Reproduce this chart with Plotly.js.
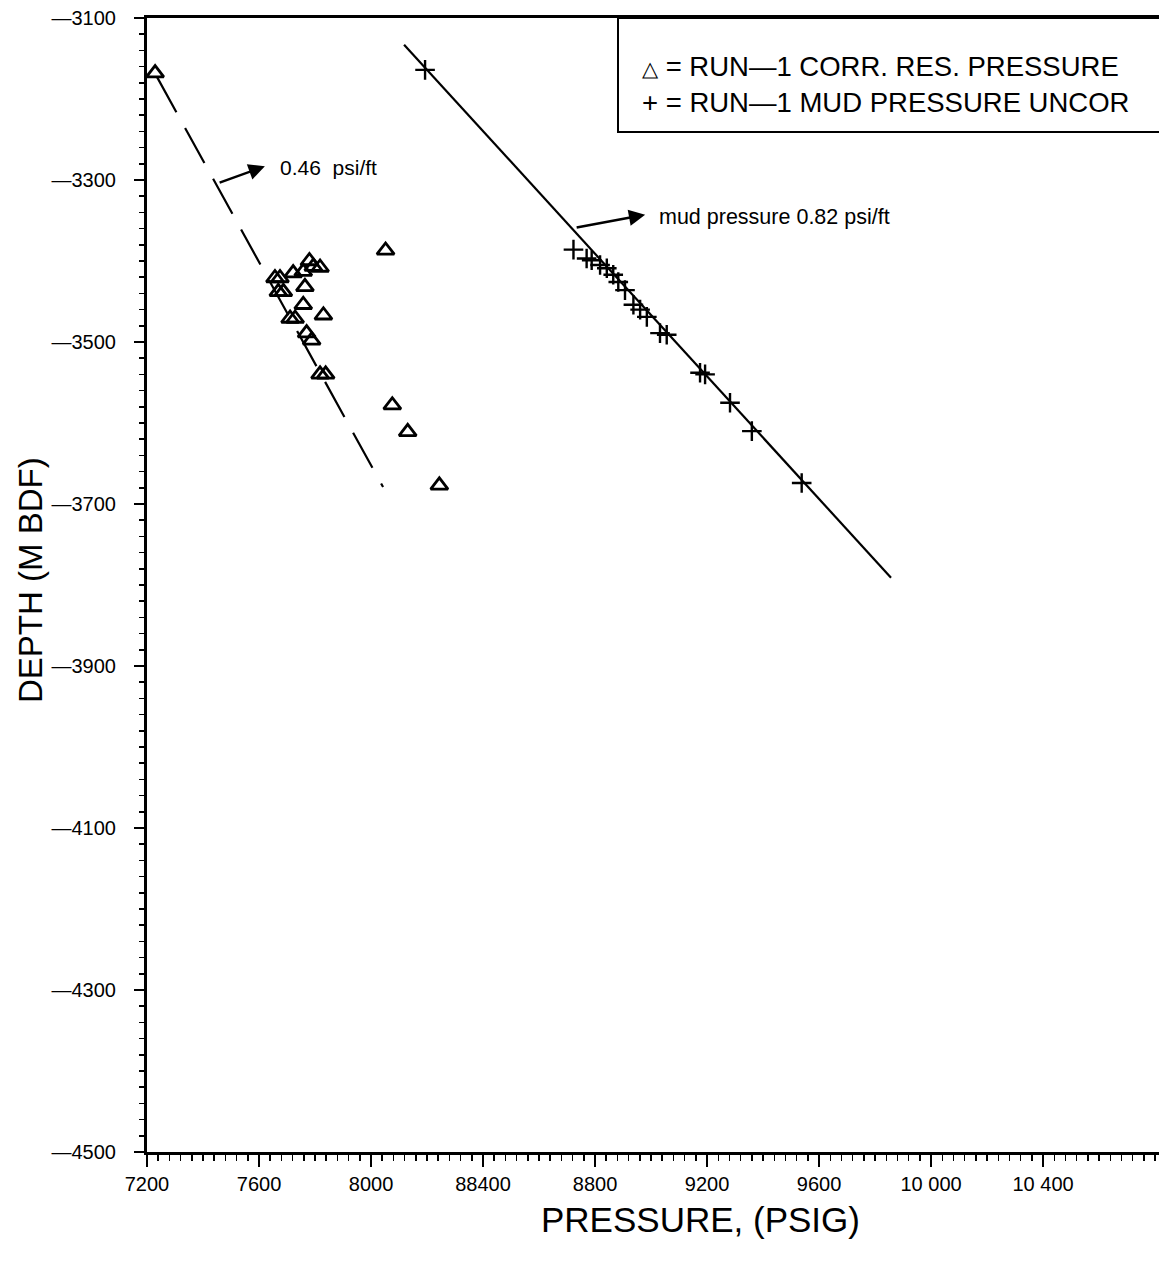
<!DOCTYPE html>
<html>
<head>
<meta charset="utf-8">
<script src="https://cdn.plot.ly/plotly-3.0.1.min.js"></script>
<style>
  html, body { margin: 0; padding: 0; background: #ffffff; }
  #chart { width: 1159px; height: 1266px; }
</style>
</head>
<body>
<div id="chart"></div>
<script>
// ---- Data ----
// RUN-1 corrected reservoir pressure (triangles)
const resPressure = [7229, 8052, 7780, 7818, 7794, 7758, 7722, 7657, 7675, 7669, 7687, 7764, 7758, 7830, 7711, 7729, 7770, 7788, 7818, 7838, 8076, 8131, 8244];
const resDepth    = [-3168, -3387, -3400, -3408, -3407, -3413, -3415, -3421, -3421, -3438, -3438, -3432, -3454, -3467, -3471, -3471, -3489, -3498, -3540, -3540, -3578, -3611, -3677];

// RUN-1 mud pressure uncorrected (crosses)
const mudPressure = [8193, 8723, 8770, 8788, 8818, 8842, 8865, 8883, 8907, 8937, 8961, 8985, 9032, 9056, 9175, 9193, 9282, 9360, 9538];
const mudDepth    = [-3164, -3386, -3397, -3399, -3405, -3409, -3417, -3426, -3436, -3454, -3460, -3469, -3489, -3491, -3538, -3540, -3575, -3610, -3674];

// Gradient lines
const resGradX = [7236, 8043];
const resGradY = [-3173, -3679];
const mudGradX = [8118, 9857];
const mudGradY = [-3133, -3791];

// Axis ticks
const xTickVals = [7200, 7600, 8000, 8400, 8800, 9200, 9600, 10000, 10400];
const xTickText = ['7200', '7600', '8000', '88400', '8800', '9200', '9600', '10 000', '10 400'];
const yTickVals = [-3100, -3300, -3500, -3700, -3900, -4100, -4300, -4500];
const yTickText = ['\u20143100', '\u20143300', '\u20143500', '\u20143700', '\u20143900', '\u20144100', '\u20144300', '\u20144500'];

// Texts
const legendSymbols = ['\u25B3', '+'];
const legendLabels = ['= RUN\u20141 CORR. RES. PRESSURE', '= RUN\u20141 MUD PRESSURE UNCOR'];
const resGradLabel = '0.46  psi/ft';
const mudGradLabel = 'mud pressure 0.82 psi/ft';
const xTitle = 'PRESSURE, (PSIG)';
const yTitle = 'DEPTH (M BDF)';

// ---- Plot ----
const FONT = 'Liberation Sans, Arial, Helvetica, sans-serif';

const traces = [
  {
    x: resGradX, y: resGradY, mode: 'lines', type: 'scatter',
    line: { color: '#000', width: 2.2, dash: '40px,18px' },
    showlegend: false, hoverinfo: 'skip'
  },
  {
    x: mudGradX, y: mudGradY, mode: 'lines', type: 'scatter',
    line: { color: '#000', width: 2.2 },
    showlegend: false, hoverinfo: 'skip'
  },
  {
    x: resPressure, y: resDepth, mode: 'markers', type: 'scatter',
    name: 'RUN-1 CORR. RES. PRESSURE',
    marker: { symbol: 'triangle-up-open', size: 15, color: '#000', line: { color: '#000', width: 2.8 } },
    showlegend: false
  },
  {
    x: mudPressure, y: mudDepth, mode: 'markers', type: 'scatter',
    name: 'RUN-1 MUD PRESSURE UNCOR',
    marker: { symbol: 'cross-thin-open', size: 14, color: '#000', line: { color: '#000', width: 2.4 } },
    showlegend: false
  }
];

const legendLeft = (640 - 147) / 1012;
const legendRows = [(1152 - 66) / 1134, (1152 - 102) / 1134];
const legendSymbolSizes = [21, 27.5];

const legendAnnots = [];
legendLabels.forEach(function (lab, i) {
  legendAnnots.push({
    xref: 'paper', yref: 'paper', x: legendLeft, y: legendRows[i],
    xanchor: 'left', yanchor: 'middle', showarrow: false,
    text: '<span style="font-size:' + legendSymbolSizes[i] + 'px">' + legendSymbols[i] + '</span> ' + lab,
    font: { family: FONT, size: 27.5, color: '#000' }
  });
});

const layout = {
  width: 1159,
  height: 1266,
  margin: { l: 147, r: 0, t: 18, b: 114, pad: 0 },
  paper_bgcolor: '#ffffff',
  plot_bgcolor: '#ffffff',
  font: { family: FONT, color: '#000', size: 20 },
  showlegend: false,
  xaxis: {
    range: [7200, 10814],
    showgrid: false, zeroline: false,
    showline: true, linecolor: '#000', linewidth: 3, mirror: true,
    ticks: 'outside', ticklen: 12, tickwidth: 2, tickcolor: '#000',
    tickmode: 'array', tickvals: xTickVals, ticktext: xTickText,
    tickfont: { family: FONT, size: 20, color: '#000' },
    minor: { ticks: 'outside', ticklen: 6, tickwidth: 1.5, tickcolor: '#000', tickmode: 'linear', tick0: 7200, dtick: 40, showgrid: false }
  },
  yaxis: {
    range: [-4500, -3100],
    showgrid: false, zeroline: false,
    showline: true, linecolor: '#000', linewidth: 3, mirror: false,
    ticks: 'outside', ticklen: 10, tickwidth: 2, tickcolor: '#000',
    tickmode: 'array', tickvals: yTickVals, ticktext: yTickText,
    ticklabelstandoff: 14,
    tickfont: { family: FONT, size: 20, color: '#000' },
    minor: { ticks: 'outside', ticklen: 5, tickwidth: 1.5, tickcolor: '#000', tickmode: 'linear', tick0: -3100, dtick: 20, showgrid: false }
  },
  shapes: [
    {
      type: 'rect', xref: 'paper', yref: 'paper',
      x0: (618 - 147) / 1012, x1: 1.05,
      y0: (1152 - 132) / 1134, y1: 1.0,
      line: { color: '#000', width: 2 }, fillcolor: 'rgba(0,0,0,0)'
    }
  ],
  annotations: legendAnnots.concat([
    {
      x: 7621, y: -3283, xref: 'x', yref: 'y',
      ax: 7454, ay: -3304, axref: 'x', ayref: 'y',
      text: '', showarrow: true, arrowhead: 2, arrowsize: 1.3, arrowwidth: 2.5, arrowcolor: '#000'
    },
    {
      x: 7668, y: -3285, xref: 'x', yref: 'y', xanchor: 'left', yanchor: 'middle',
      text: resGradLabel, showarrow: false, font: { family: FONT, size: 21, color: '#000' }
    },
    {
      x: 8979, y: -3343, xref: 'x', yref: 'y',
      ax: 8729, ay: -3359, axref: 'x', ayref: 'y',
      text: '', showarrow: true, arrowhead: 2, arrowsize: 1.3, arrowwidth: 2.5, arrowcolor: '#000'
    },
    {
      x: 9021, y: -3346, xref: 'x', yref: 'y', xanchor: 'left', yanchor: 'middle',
      text: mudGradLabel, showarrow: false, font: { family: FONT, size: 21.5, color: '#000' }
    },
    {
      // x-axis title
      xref: 'paper', yref: 'paper', x: (700 - 147) / 1012, y: -(1220 - 1152) / 1134,
      xanchor: 'center', yanchor: 'middle', showarrow: false,
      text: xTitle, font: { family: FONT, size: 35, color: '#000' }
    },
    {
      // y-axis title
      xref: 'paper', yref: 'paper', x: -(147 - 30) / 1012, y: (1152 - 580) / 1134,
      xanchor: 'center', yanchor: 'middle', showarrow: false, textangle: -90,
      text: yTitle, font: { family: FONT, size: 33, color: '#000' }
    }
  ])
};

Plotly.newPlot('chart', traces, layout, { displayModeBar: false, staticPlot: true });
</script>
</body>
</html>
